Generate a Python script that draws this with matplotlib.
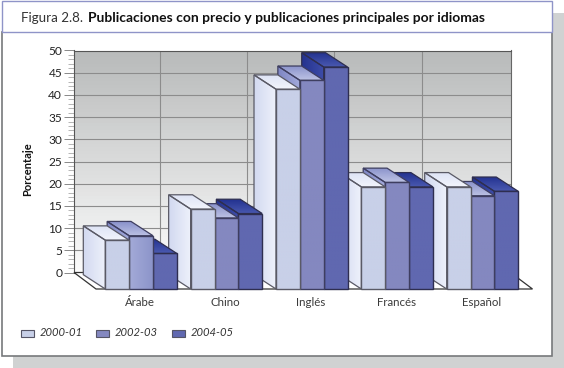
import numpy as np
import matplotlib
matplotlib.use("Agg")
import matplotlib.pyplot as plt
from matplotlib.patches import Polygon, Rectangle
from matplotlib.colors import to_rgb
from matplotlib.ticker import MultipleLocator

categories = ["Árabe", "Chino", "Inglés", "Francés", "Español"]
series_names = ["2000-01", "2002-03", "2004-05"]
s2000 = [11, 18, 45, 23, 23]
s2002 = [12, 16, 47, 24, 21]
s2004 = [8, 17, 50, 23, 22]
title_light = "Figura 2.8."
title_bold = "Publicaciones con precio y publicaciones principales por idiomas"
ylabel = "Porcentaje"

W, H = 564, 368
FONT = "Lato"
plt.rcParams["font.family"] = [FONT, "DejaVu Sans"]
fig = plt.figure(figsize=(W / 100, H / 100), dpi=100, facecolor="white")

def fx(x): return x / W
def fy(y): return 1 - y / H

# page furniture
for (x0, y0, x1, y1, fc, ec, lw) in [
    (13, 13, 564, 368, "#D0D2D2", "none", 0),
    (1.5, 31.5, 552, 356, "white", "#77797B", 1.2),
    (1.5, 1.5, 552, 31.5, "white", "#8F94C8", 1.0),
]:
    fig.add_artist(Rectangle((fx(x0), fy(y1)), (x1 - x0) / W, (y1 - y0) / H,
                             transform=fig.transFigure, fc=fc, ec=ec, lw=lw, zorder=-5))

ax = fig.add_axes([fx(74), fy(272.5), 436.5 / W, 222 / H])
ax.set_xlim(0, 5)
ax.set_ylim(0, 50)
ax.set_facecolor("none")

def lerp(c0, c1, n=64):
    a, b = np.array(to_rgb(c0)), np.array(to_rgb(c1))
    return (a[None, :] * (1 - np.linspace(0, 1, n))[:, None] +
            b[None, :] * np.linspace(0, 1, n)[:, None])

# wall gradient
ax.imshow(lerp("#B8BABA", "#FCFCFC")[:, None, :], extent=(0, 5, 0, 50),
          aspect="auto", origin="upper", zorder=0)

# geometry in data units
DX, DY = 22 / 87.3, 14.3 / 4.44
FLOOR_DX, FLOOR_DY = 22 / 87.3, 16.5 / 4.44
BAR_W = 23.85 / 87.3
GROUP_PITCH = 85.35 / 87.3
GROUP_X0 = (105.3 - 74) / 87.3
Y0 = -FLOOR_DY

# floor
floor = Polygon([(0, 0), (5, 0), (5 + FLOOR_DX, Y0), (FLOOR_DX, Y0)], closed=True,
                fc="white", ec="#333333", lw=0.9, clip_on=False, zorder=1.5)
ax.add_patch(floor)

def grad_poly(verts, c0, c1, horizontal, z):
    poly = Polygon(verts, closed=True, fc="none", ec="none", transform=ax.transData, clip_on=False)
    ax.add_patch(poly)
    xs = [v[0] for v in verts]; ys = [v[1] for v in verts]
    g = lerp(c0, c1)
    img = g[None, :, :] if horizontal else g[:, None, :]
    im = ax.imshow(img, extent=(min(xs), max(xs), min(ys), max(ys)), aspect="auto",
                   origin="upper", zorder=z)
    im.set_clip_box(fig.bbox)
    im.set_clip_path(poly)

styles = [
    dict(front=("#C8D0E8", "#C8D0E8"), side=("#D2D9F0", "#EEF1FB"), top=("#DDE3F5", "#F2F4FC"), ec="#5A5A66"),
    dict(front=("#8488C0", "#8488C0"), side=("#7E86C4", "#A4ABDB"), top=("#8890CA", "#BCC2E4"), ec="#3E3E60"),
    dict(front=("#6068B0", "#6068B0"), side=("#25338F", "#3D4CA8"), top=("#22318F", "#4A59B0"), ec="#2E2E50"),
]
all_series = [s2000, s2002, s2004]

z = 5.0
for g in range(len(categories) - 1, -1, -1):
    for s in range(2, -1, -1):
        v = all_series[s][g]
        st = styles[s]
        x0 = GROUP_X0 + g * GROUP_PITCH + s * BAR_W
        x1 = x0 + BAR_W
        yt = Y0 + v
        side = [(x0, Y0), (x0, yt), (x0 - DX, yt + DY), (x0 - DX, Y0 + DY)]
        top = [(x0, yt), (x1, yt), (x1 - DX, yt + DY), (x0 - DX, yt + DY)]
        front = [(x0, Y0), (x1, Y0), (x1, yt), (x0, yt)]
        front_c = st["front"]
        if g == 0 and s == 1:
            front_c = ("#A4ABD8", "#8C94CA")
        grad_poly(side, *st["side"], True, z); z += .01
        grad_poly(top, *st["top"], False, z); z += .01
        grad_poly(front, *front_c, True, z); z += .01
        for verts, lw in [(side, .9), (top, .9), (front, 1.0)]:
            ax.add_patch(Polygon(verts, closed=True, fc="none", ec=st["ec"], lw=lw,
                                 clip_on=False, zorder=z))
        z += .01

ax.set_xlim(0, 5)
ax.set_ylim(0, 50)

# axes, grid and labels
ax.yaxis.set_major_locator(MultipleLocator(5))
ax.yaxis.set_minor_locator(MultipleLocator(1))
ax.set_xticks([0.98, 1.98, 2.98, 3.99])
ax.set_xticklabels([""] * 4)
ax.set_xticks([(140 - 74) / 87.3 + i * 85.5 / 87.3 for i in range(5)], labels=categories, minor=True)
ax.tick_params(axis="x", which="both", length=0)
ax.tick_params(axis="x", which="minor", pad=17.5, labelsize=8.3, labelcolor="#3A3A3A")
ax.tick_params(axis="y", which="major", length=7.5, width=0.7, color="#888888", labelsize=8.6,
               labelcolor="#222222", pad=1)
ax.tick_params(axis="y", which="minor", length=4, width=0.6, color="#AAAAAA")
ax.grid(True, which="major", color="#8C8C8C", lw=0.8, zorder=1)
ax.set_axisbelow(True)
for name, sp in ax.spines.items():
    sp.set_color("#555555")
    sp.set_linewidth(0.8)
    sp.set_zorder(1.2)
ax.spines["bottom"].set_visible(False)
ax.spines["right"].set_color("#666666")

fig.text(fx(27.5), fy(169), ylabel, rotation=90, ha="center", va="center",
         fontsize=8, fontweight="bold", color="#111111")

# title
fig.text(fx(21), fy(17.5), title_light, ha="left", va="center", fontsize=9.6, color="#333333")
fig.text(fx(88.5), fy(17.5), title_bold, ha="left", va="center", fontsize=10,
         fontweight="bold", color="#111111")

# legend
for i, (name, st, px) in enumerate(zip(series_names, styles, [21, 96, 172])):
    fig.add_artist(Rectangle((fx(px), fy(336.5)), 13 / W, 6.5 / H, transform=fig.transFigure,
                             fc=st["front"][0], ec="#555566", lw=0.8))
    fig.text(fx(px + 19), fy(333), name, ha="left", va="center", fontsize=8.1,
             style="italic", color="#333333")

fig.savefig("out.png", dpi=100)
